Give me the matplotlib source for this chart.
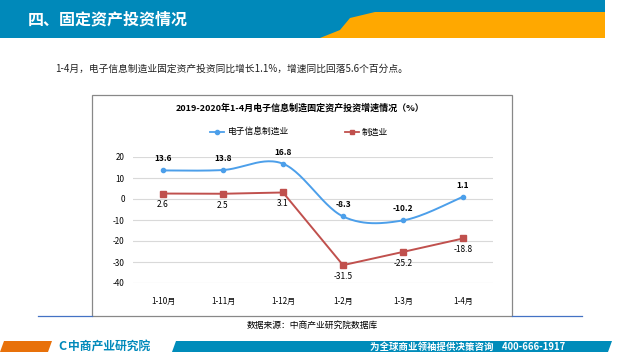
import numpy as np
import matplotlib
matplotlib.use("Agg")
import matplotlib.pyplot as plt
from matplotlib.patches import Rectangle, Polygon

plt.rcParams['font.family'] = ['Noto Sans CJK SC', 'DejaVu Sans']

# data
months = ["1-10月", "1-11月", "1-12月", "1-2月", "1-3月", "1-4月"]
electronics = [13.6, 13.8, 16.8, -8.3, -10.2, 1.1]
manufacturing = [2.6, 2.5, 3.1, -31.5, -25.2, -18.8]
yticks = [20, 10, 0, -10, -20, -30, -40]

BLUE = "#4C9FEA"
RED = "#C0504D"
W, H = 640, 360


def px(x, y):
    """pixel (top-left origin) -> figure fraction"""
    return x / W, 1 - y / H


def smooth(xs, ys, n=30):
    # catmull-rom style smoothing, like excel's smoothed line
    xs = np.asarray(xs, float)
    ys = np.asarray(ys, float)
    P = np.column_stack([xs, ys])
    P = np.vstack([P[0], P, P[-1]])
    out = []
    for i in range(1, len(P) - 2):
        p0, p1, p2, p3 = P[i - 1], P[i], P[i + 1], P[i + 2]
        c1 = p1 + (p2 - p0) / 6
        c2 = p2 - (p3 - p1) / 6
        t = np.linspace(0, 1, n)[:, None]
        seg = (1 - t) ** 3 * p1 + 3 * (1 - t) ** 2 * t * c1 + 3 * (1 - t) * t ** 2 * c2 + t ** 3 * p2
        out.append(seg)
    out = np.vstack(out)
    return out[:, 0], out[:, 1]


fig = plt.figure(figsize=(6.4, 3.6), dpi=100)
bg = fig.add_axes([0, 0, 1, 1])
bg.set_xlim(0, W)
bg.set_ylim(H, 0)
bg.axis("off")

# header bar
bg.add_patch(Rectangle((0, 0), 605, 38, color="#0089BA", lw=0))
bg.add_patch(Polygon([[320, 38], [340, 30], [350, 18], [375, 12], [605, 12], [605, 38]],
                     closed=True, color="#FFA800", lw=0))
bg.text(28, 19, "四、固定资产投资情况", color="white", fontsize=11.5,
        fontweight="bold", va="center", ha="left")

bg.text(55, 69, "1-4月，电子信息制造业固定资产投资同比增长1.1%，增速同比回落5.6个百分点。",
        fontsize=7, va="center", ha="left", color="#222222")

# chart frame
bg.add_patch(Rectangle((92, 95), 420, 221, fill=False, ec="#888888", lw=0.9))
bg.plot([38, 92], [316, 316], color="#4472C4", lw=0.9)
bg.plot([512, 582], [316, 316], color="#4472C4", lw=0.9)
bg.text(300, 108, "2019-2020年1-4月电子信息制造固定资产投资增速情况（%）",
        fontsize=6.5, fontweight="bold", ha="center", va="center")

# legend
bg.plot([210, 224], [132, 132], color=BLUE, lw=1.3)
bg.plot([217], [132], marker="o", ms=3, color=BLUE)
bg.text(228, 132, "电子信息制造业", fontsize=6.3, va="center", ha="left")
bg.plot([345, 359], [132, 132], color=RED, lw=1.3)
bg.plot([352], [132], marker="s", ms=3.5, color=RED)
bg.text(362, 132, "制造业", fontsize=6.3, va="center", ha="left")

bg.text(312, 325, "数据来源：中商产业研究院数据库", fontsize=6.3, ha="center", va="center")

# footer
bg.add_patch(Polygon([[0, 352], [4, 341], [52, 341], [48, 352]], closed=True, color="#E8710A", lw=0))
bg.text(58, 346.5, "C", color="#0089BA", fontsize=9, fontweight="bold", va="center", ha="left")
bg.text(68, 346.5, "中商产业研究院", color="#0089BA", fontsize=8.5, fontweight="bold",
        va="center", ha="left")
bg.add_patch(Polygon([[172, 352], [176, 341], [612, 341], [608, 352]], closed=True,
                     color="#008CBA", lw=0))
bg.text(565, 346.5, "为全球商业领袖提供决策咨询    400-666-1917", color="white",
        fontsize=6.8, fontweight="bold", va="center", ha="right")

# plot area
l, b = px(133, 283)
r, t = px(493, 157)
ax = fig.add_axes([l, b, r - l, t - b])
ax.set_facecolor("none")
x = np.arange(len(months))

sx, sy = smooth(x, electronics)
ax.plot(sx, sy, color=BLUE, lw=1.4, clip_on=False, zorder=3)
ax.plot(x, electronics, "o", color=BLUE, ms=3, clip_on=False, zorder=4)
ax.plot(x, manufacturing, color=RED, lw=1.4, marker="s", ms=4, clip_on=False, zorder=3)

for xi, v in zip(x, electronics):
    ax.annotate(f"{v}", (xi, v), xytext=(0, 5), textcoords="offset points",
                ha="center", va="bottom", fontsize=6, fontweight="bold")
for xi, v in zip(x, manufacturing):
    ax.annotate(f"{v}", (xi, v), xytext=(0, -5), textcoords="offset points",
                ha="center", va="top", fontsize=6)

ax.set_xlim(-0.5, len(months) - 0.5)
ax.set_ylim(-40, 20)
ax.set_yticks(yticks)
ax.set_yticklabels([str(v) for v in yticks])
ax.set_xticks(x)
ax.set_xticklabels(months)
ax.grid(axis="y", color="#D9D9D9", lw=0.8)
ax.set_axisbelow(True)
for s in ax.spines.values():
    s.set_visible(False)
ax.tick_params(length=0, labelsize=5.8, pad=6)
ax.tick_params(axis="x", pad=10)

fig.savefig("out.png", dpi=100)
